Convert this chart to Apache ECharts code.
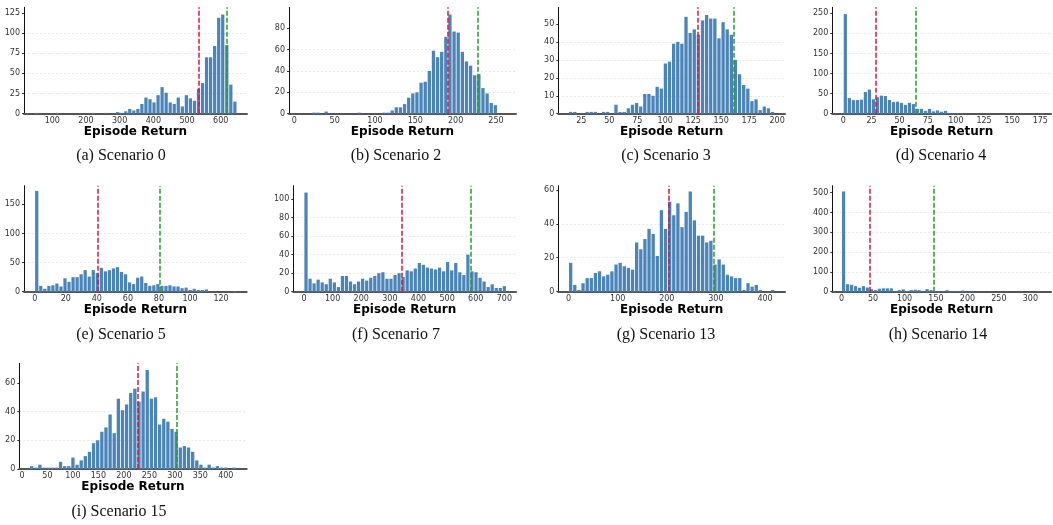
<!DOCTYPE html>
<html>
<head>
<meta charset="utf-8">
<script src="https://cdn.jsdelivr.net/npm/echarts@6/dist/echarts.min.js"></script>
<style>
  html, body { margin: 0; background: #fff; }
  #chart { width: 1053px; height: 525px; }
</style>
</head>
<body>
<div id="chart"></div>
<script>
// captions of the nine panels
var captions = ['(a) Scenario 0', '(b) Scenario 2', '(c) Scenario 3', '(d) Scenario 4',
  '(e) Scenario 5', '(f) Scenario 7', '(g) Scenario 13', '(h) Scenario 14', '(i) Scenario 15'];

// histogram bin range (episode return) for each panel, 50 bins each
var binLo = [48, 6.2, 13.7, 0, 0, 0, 0, 0, 15];
var binHi = [648, 262, 197.7, 178, 130, 707, 420, 316, 420];

// counts per bin
var countsA = [1,0,0,0,0,1,0,0,0,0, 0,0,0,0,1,0,0,1,0,0, 2,1,3,6,4,6,12,20,18,14, 23,33,26,14,12,20,9,23,19,16, 31,38,70,70,84,119,123,85,36,15];
var countsB = [0,0,0,1,1,0,2,0,0,0, 0,0,0,0,1,0,0,0,0,0, 1,1,3,6,6,9,15,19,20,29, 30,40,59,53,58,72,93,77,76,58, 49,45,36,37,24,19,10,8,0,0];
var countsC = [1,1,0,0,1,1,1,0,1,1, 0,5,1,1,3,5,6,4,11,11, 10,15,14,28,29,39,40,39,54,45, 47,44,52,55,53,53,42,51,47,44, 30,22,16,14,7,8,2,4,3,1];
var countsD = [248,39,34,34,35,54,60,36,41,45, 44,34,29,30,27,22,27,24,12,12, 7,12,6,8,5,7,2,1,1,1, 0,0,0,0,0,0,0,0,0,0, 0,0,0,0,0,0,0,0,0,1];
var countsE = [173,10,5,10,11,14,9,23,17,25, 25,30,37,26,37,32,41,35,37,40, 42,34,30,16,13,24,26,15,10,11, 13,10,10,11,9,9,6,7,3,5, 3,3,4,0,0,0,0,0,0,1];
var countsF = [107,14,9,13,10,8,14,10,5,17, 17,11,8,11,14,12,15,17,20,21, 14,14,18,20,16,23,22,25,31,29, 26,25,24,26,22,32,23,31,21,18, 40,22,21,15,11,5,8,4,4,6];
var countsG = [17,4,1,5,8,8,11,12,9,10, 12,16,17,15,14,13,29,25,31,37, 34,21,48,37,53,45,52,38,47,59, 42,33,33,29,30,16,19,16,10,9, 8,8,1,5,3,4,1,0,0,1];
var countsH = [506,38,35,28,20,28,21,13,8,15, 17,17,17,3,8,12,3,8,10,8, 3,13,8,2,2,2,8,2,2,2, 6,1,1,0,1,0,0,1,0,0, 0,1,0,0,0,0,0,0,0,1];
var countsI = [2,1,3,1,1,1,1,5,2,2, 8,3,6,9,12,18,20,26,29,38, 25,49,41,45,53,56,47,54,69,49, 50,31,35,33,28,26,15,16,15,12, 6,3,1,3,1,2,1,1,0,1];
var counts = [countsA, countsB, countsC, countsD, countsE, countsF, countsG, countsH, countsI];

// dashed reference lines (red, green)
var redLine = [534.7, 190, 129.5, 28.4, 40.8, 340, 203, 44.4, 227];
var greenLine = [616.8, 227.7, 161.6, 64.3, 80.5, 581, 294.7, 145.8, 303.8];

// axis extents
var xRange = [[16, 678], [-6.6, 274.8], [4.5, 207], [-9.8, 184.5], [-6.9, 136.5],
  [-37.3, 740.7], [-21, 440.7], [-14.8, 332.8], [-5.2, 441]];
var yMax = [132, 99.7, 59.3, 265, 182, 114.4, 62.4, 535, 73.7];
var yStep = [25, 20, 10, 50, 50, 20, 20, 100, 20];

// tick labels
var xTicks = [
  [100, 200, 300, 400, 500, 600],
  [0, 50, 100, 150, 200, 250],
  [25, 50, 75, 100, 125, 150, 175, 200],
  [0, 25, 50, 75, 100, 125, 150, 175],
  [0, 20, 40, 60, 80, 100, 120],
  [0, 100, 200, 300, 400, 500, 600, 700],
  [0, 100, 200, 300, 400],
  [0, 50, 100, 150, 200, 250, 300],
  [0, 50, 100, 150, 200, 250, 300, 350, 400]
];
var yTicks = [
  [0, 25, 50, 75, 100, 125],
  [0, 20, 40, 60, 80],
  [0, 10, 20, 30, 40, 50],
  [0, 50, 100, 150, 200, 250],
  [0, 50, 100, 150],
  [0, 20, 40, 60, 80, 100],
  [0, 20, 40, 60],
  [0, 100, 200, 300, 400, 500],
  [0, 20, 40, 60]
];

// layout: [left, top, right, bottom] in px
var boxes = [
  [24, 7.3, 247, 113.7], [289, 7.3, 516, 113.7], [558.3, 7.3, 785, 113.7], [832.3, 7.3, 1051, 113.7],
  [24, 185.7, 246.7, 291.7], [293.3, 185.7, 516, 291.7], [558.3, 185.7, 785, 291.7], [832.3, 185.7, 1051, 291.7],
  [19.3, 363.3, 246.7, 469]
];
var captionPos = [[121, 156], [396, 156], [666, 156], [941, 156],
  [121, 335], [396, 335], [666, 335], [938, 335], [119, 512]];

var grids = [], xAxes = [], yAxes = [], series = [], texts = [];

function renderBar(params, api) {
  var v = api.value(2);
  if (!v) return null;
  var p0 = api.coord([api.value(0), v]);
  var p1 = api.coord([api.value(1), 0]);
  var w = p1[0] - p0[0];
  return {
    type: 'rect',
    shape: { x: p0[0] + w * 0.1, y: p0[1], width: w * 0.8, height: p1[1] - p0[1] },
    style: { fill: '#4a84b8' }
  };
}

for (var p = 0; p < 9; p++) {
  var b = boxes[p];
  grids.push({ left: b[0], top: b[1], width: b[2] - b[0], height: b[3] - b[1] });

  xAxes.push({
    type: 'value', gridIndex: p, min: xRange[p][0], max: xRange[p][1],
    name: 'Episode Return', nameLocation: 'middle', nameGap: 12,
    nameTextStyle: { fontFamily: 'DejaVu Sans', fontWeight: 'bold', fontSize: 12, color: '#000' },
    axisLine: { show: true, onZero: false, lineStyle: { color: '#555', width: 2 } },
    axisTick: { show: false },
    axisLabel: { customValues: xTicks[p], fontFamily: 'DejaVu Sans', fontSize: 8, color: '#333', margin: 3 },
    splitLine: { show: false }
  });

  yAxes.push({
    type: 'value', gridIndex: p, min: 0, max: yMax[p], interval: yStep[p],
    axisLine: { show: true, onZero: false, lineStyle: { color: '#111', width: 1 } },
    axisTick: { show: true, customValues: yTicks[p], length: 2, lineStyle: { color: '#333' } },
    axisLabel: { customValues: yTicks[p], fontFamily: 'DejaVu Sans', fontSize: 8, color: '#333', margin: 4 },
    splitLine: { show: true, showMinLine: false, showMaxLine: false,
      lineStyle: { color: '#e2e2e2', type: [2, 2], width: 0.8 } }
  });

  var w = (binHi[p] - binLo[p]) / counts[p].length;
  var data = counts[p].map(function (c, i) {
    return [binLo[p] + i * w, binLo[p] + (i + 1) * w, c];
  });

  series.push({
    type: 'custom', xAxisIndex: p, yAxisIndex: p, z: 3,
    renderItem: renderBar,
    encode: { x: [0, 1], y: 2 },
    data: data,
    markLine: {
      silent: true, symbol: 'none', z: 6, animation: false,
      label: { show: false },
      lineStyle: { type: [5, 2], width: 1.5 },
      data: [
        { xAxis: redLine[p], lineStyle: { color: '#e0143c' } },
        { xAxis: greenLine[p], lineStyle: { color: '#2a9a2a' } }
      ]
    }
  });

  texts.push({
    type: 'text', x: captionPos[p][0], y: captionPos[p][1],
    style: { text: captions[p], font: '16px "Liberation Serif"', fill: '#111',
      textAlign: 'center', textVerticalAlign: 'middle' }
  });
}

var chart = echarts.init(document.getElementById('chart'));
chart.setOption({
  animation: false,
  grid: grids,
  xAxis: xAxes,
  yAxis: yAxes,
  series: series,
  graphic: texts
});
</script>
</body>
</html>
